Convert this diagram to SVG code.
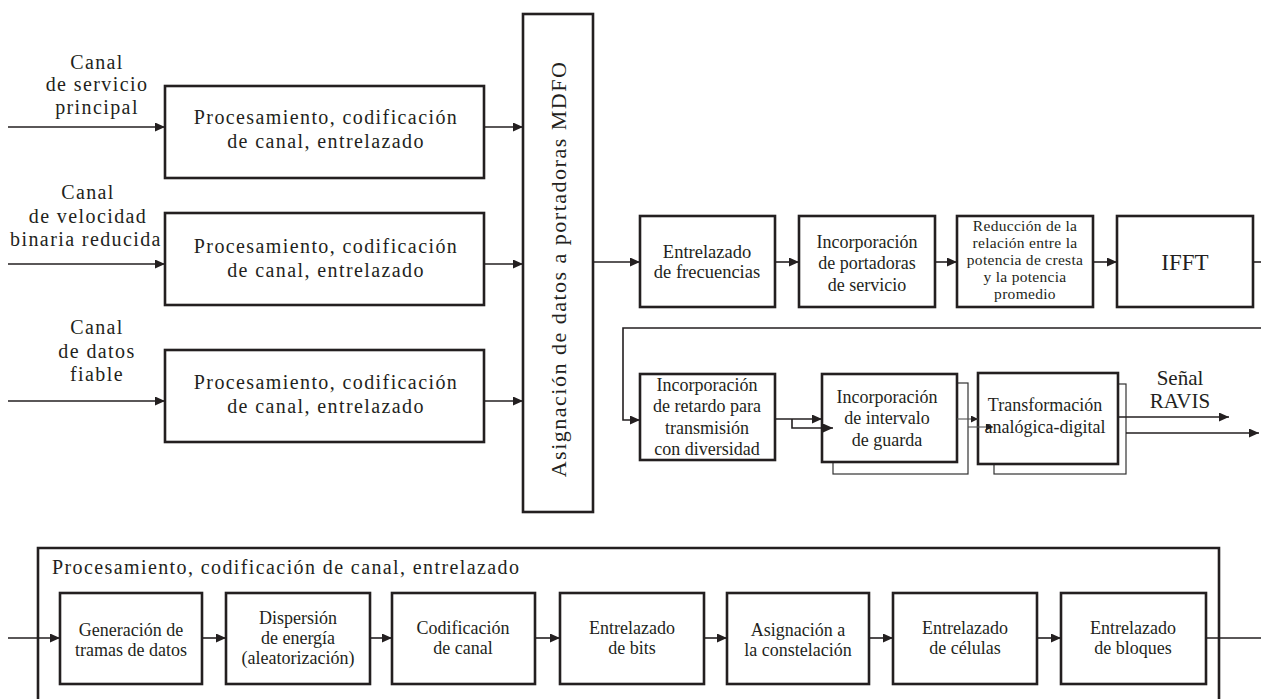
<svg xmlns="http://www.w3.org/2000/svg" width="1261" height="699" viewBox="0 0 1261 699">
<defs>
<marker id="ah" markerUnits="userSpaceOnUse" markerWidth="10" markerHeight="9" refX="10" refY="4.5" orient="auto"><path d="M0,0 L10,4.5 L0,9 z" fill="#231f20"/></marker>
<marker id="ahs" markerUnits="userSpaceOnUse" markerWidth="7" markerHeight="7" refX="7" refY="3.5" orient="auto"><path d="M0,0 L7,3.5 L0,7 z" fill="#231f20"/></marker>
<style>
.box{fill:#fff;stroke:#231f20;stroke-width:2.6}
.shadow{fill:#fff;stroke:#333;stroke-width:1.2}
.ln{fill:none;stroke:#231f20;stroke-width:1.6}
.thin{fill:none;stroke:#555;stroke-width:1.1}
.t{font-family:"Liberation Serif","Times New Roman",serif;fill:#231f20}
.big{font-size:20px;letter-spacing:1.4px}
.sm{font-size:18px}
.xs{font-size:15.5px;letter-spacing:0.3px}
.c{text-anchor:middle}
</style>
</defs>
<rect width="1261" height="699" fill="#fff"/>

<g id="labels">
<text class="t big c" x="97" y="69">Canal</text>
<text class="t big c" x="97" y="91">de servicio</text>
<text class="t big c" x="97" y="114">principal</text>
<text class="t big c" x="88" y="199">Canal</text>
<text class="t big c" x="88" y="223">de velocidad</text>
<text class="t big c" x="86" y="246">binaria reducida</text>
<text class="t big c" x="97" y="334">Canal</text>
<text class="t big c" x="97" y="358">de datos</text>
<text class="t big c" x="97" y="381">fiable</text>
</g>

<g id="proc1"><rect class="box" x="165" y="86" width="319" height="92"/>
<text class="t big c" x="326" y="124">Procesamiento, codificación</text>
<text class="t big c" x="326" y="148">de canal, entrelazado</text></g>
<g id="proc2"><rect class="box" x="165" y="213" width="319" height="92"/>
<text class="t big c" x="326" y="253">Procesamiento, codificación</text>
<text class="t big c" x="326" y="277">de canal, entrelazado</text></g>
<g id="proc3"><rect class="box" x="165" y="350" width="319" height="92"/>
<text class="t big c" x="326" y="389">Procesamiento, codificación</text>
<text class="t big c" x="326" y="413">de canal, entrelazado</text></g>

<g id="mdfo"><rect class="box" x="523" y="14" width="70" height="498"/>
<text class="t c" x="0" y="0" font-size="22" letter-spacing="1.5" transform="translate(566,269) rotate(-90)">Asignación de datos a portadoras MDFO</text></g>

<g id="frec"><rect class="box" x="640" y="216" width="135" height="91"/>
<text class="t c" font-size="18.5" x="707" y="258">Entrelazado</text>
<text class="t c" font-size="18.5" x="707" y="278">de frecuencias</text></g>
<g id="portadoras"><rect class="box" x="799" y="216" width="136" height="91"/>
<text class="t sm c" x="867" y="248">Incorporación</text>
<text class="t sm c" x="867" y="269">de portadoras</text>
<text class="t sm c" x="867" y="291">de servicio</text></g>
<g id="papr"><rect class="box" x="957" y="216" width="136" height="91"/>
<text class="t xs c" x="1025" y="230.5">Reducción de la</text>
<text class="t xs c" x="1025" y="247.5">relación entre la</text>
<text class="t xs c" x="1025" y="264.5">potencia de cresta</text>
<text class="t xs c" x="1025" y="281.5">y la potencia</text>
<text class="t xs c" x="1025" y="298.5">promedio</text></g>
<g id="ifft"><rect class="box" x="1117" y="216" width="136" height="91"/>
<text class="t c" font-size="23" x="1185" y="270">IFFT</text></g>

<g id="retardo"><rect class="box" x="640" y="374" width="135" height="86"/>
<text class="t sm c" x="707" y="391">Incorporación</text>
<text class="t sm c" x="707" y="412">de retardo para</text>
<text class="t sm c" x="707" y="434">transmisión</text>
<text class="t sm c" x="707" y="455">con diversidad</text></g>
<g id="guarda"><rect class="shadow" x="833" y="383" width="135" height="91"/>
<rect class="box" x="822" y="374" width="135" height="88"/>
<text class="t sm c" x="887" y="403">Incorporación</text>
<text class="t sm c" x="887" y="424">de intervalo</text>
<text class="t sm c" x="887" y="446">de guarda</text></g>
<g id="transf"><rect class="shadow" x="994" y="384" width="132" height="90"/>
<rect class="box" x="978" y="373" width="140" height="91"/>
<text class="t sm c" x="1045" y="411">Transformación</text>
<text class="t sm c" x="1045" y="433">analógica-digital</text></g>
<g id="senal">
<text class="t c" font-size="21" x="1180" y="385">Señal</text>
<text class="t c" font-size="21" x="1180" y="408">RAVIS</text></g>

<g id="detalle">
<path class="box" style="fill:none" d="M38,700 V548 H1219 V700"/>
<text class="t big" x="52" y="574">Procesamiento, codificación de canal, entrelazado</text>
</g>
<g id="b1"><rect class="box" x="60" y="593" width="142" height="91"/>
<text class="t sm c" x="131" y="636">Generación de</text>
<text class="t sm c" x="131" y="656">tramas de datos</text></g>
<g id="b2"><rect class="box" x="226" y="593" width="144" height="91"/>
<text class="t sm c" x="298" y="624">Dispersión</text>
<text class="t sm c" x="298" y="644">de energía</text>
<text class="t sm c" x="298" y="664">(aleatorización)</text></g>
<g id="b3"><rect class="box" x="392" y="593" width="143" height="91"/>
<text class="t sm c" x="463" y="634">Codificación</text>
<text class="t sm c" x="463" y="654">de canal</text></g>
<g id="b4"><rect class="box" x="560" y="593" width="144" height="91"/>
<text class="t sm c" x="632" y="634">Entrelazado</text>
<text class="t sm c" x="632" y="654">de bits</text></g>
<g id="b5"><rect class="box" x="727" y="593" width="142" height="91"/>
<text class="t sm c" x="798" y="636">Asignación a</text>
<text class="t sm c" x="798" y="656">la constelación</text></g>
<g id="b6"><rect class="box" x="893" y="593" width="144" height="91"/>
<text class="t sm c" x="965" y="634">Entrelazado</text>
<text class="t sm c" x="965" y="654">de células</text></g>
<g id="b7"><rect class="box" x="1061" y="593" width="145" height="91"/>
<text class="t sm c" x="1133" y="634">Entrelazado</text>
<text class="t sm c" x="1133" y="654">de bloques</text></g>

<g id="connectors">
<path class="ln" d="M8,127 H165" marker-end="url(#ah)"/>
<path class="ln" d="M8,264 H165" marker-end="url(#ah)"/>
<path class="ln" d="M8,401 H165" marker-end="url(#ah)"/>
<path class="ln" d="M484,127 H523" marker-end="url(#ah)"/>
<path class="ln" d="M484,264 H523" marker-end="url(#ah)"/>
<path class="ln" d="M484,401 H523" marker-end="url(#ah)"/>
<path class="ln" d="M593,262 H640" marker-end="url(#ah)"/>
<path class="ln" d="M775,262 H799" marker-end="url(#ah)"/>
<path class="ln" d="M935,262 H957" marker-end="url(#ah)"/>
<path class="ln" d="M1093,262 H1117" marker-end="url(#ah)"/>
<path class="ln" d="M1253,262 H1261"/>
<path class="ln" d="M1261,328 H623 V420 H640" marker-end="url(#ah)"/>
<path class="ln" d="M775,419 H822" marker-end="url(#ah)"/>
<path class="ln" d="M792,419 V428 H833" marker-end="url(#ah)"/>
<path class="thin" d="M957,419 H978" marker-end="url(#ahs)"/>
<path class="thin" d="M968,427 H993" marker-end="url(#ahs)"/>
<path class="ln" d="M1118,417 H1229" marker-end="url(#ah)"/>
<path class="ln" d="M1126,433 H1259" marker-end="url(#ah)"/>
<path class="ln" d="M8,638 H60" marker-end="url(#ah)"/>
<path class="ln" d="M202,638 H226" marker-end="url(#ah)"/>
<path class="ln" d="M370,638 H392" marker-end="url(#ah)"/>
<path class="ln" d="M535,638 H560" marker-end="url(#ah)"/>
<path class="ln" d="M704,638 H727" marker-end="url(#ah)"/>
<path class="ln" d="M869,638 H893" marker-end="url(#ah)"/>
<path class="ln" d="M1037,638 H1061" marker-end="url(#ah)"/>
<path class="ln" d="M1206,638 H1261"/>
</g>
</svg>
